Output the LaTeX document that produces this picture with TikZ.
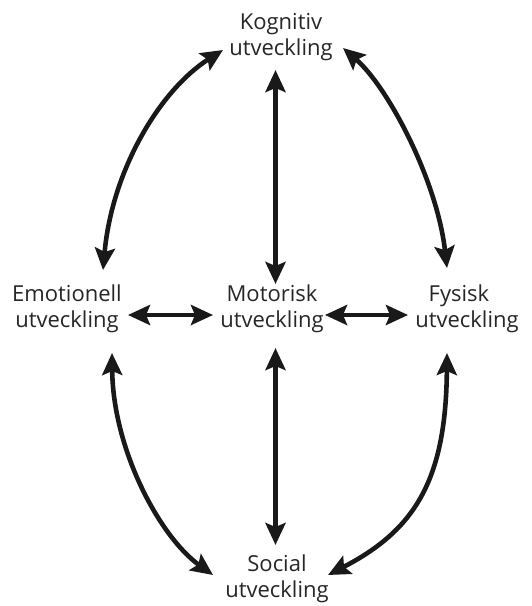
\documentclass[tikz,border=0pt]{standalone}
\usepackage{fontspec}
\setmainfont{Open Sans}
\usetikzlibrary{arrows.meta,calc}
\begin{document}
\begin{tikzpicture}[x=1pt,y=-1pt,
  lbl/.style={align=center,inner sep=0pt,font=\fontsize{22}{26}\selectfont,text=black!85},
  biarrow/.style={line width=4.6pt,color=black!90,
    {Stealth[length=22pt,width=20pt,inset=4pt]}-{Stealth[length=22pt,width=20pt,inset=4pt]}}]
\useasboundingbox (0,0) rectangle (531,606);
\node[lbl] (kog) at (281,37.5) {Kognitiv\\utveckling};
\node[lbl] (emo) at (67,308.5) {Emotionell\\utveckling};
\node[lbl] (mot) at (272,308.5) {Motorisk\\utveckling};
\node[lbl] (fys) at (467,308.5) {Fysisk\hspace*{16pt}\\utveckling};
\node[lbl] (soc) at (277,579) {Social\\utveckling};
% vertical
\draw[biarrow] ($(kog.center)+(-5.5,32.5)$) -- ($(mot.center)+(3.5,-24.5)$);
\draw[biarrow] ($(mot.center)+(3.5,39.5)$) -- ($(soc.center)+(-1.5,-34)$);
% horizontal
\draw[biarrow] ($(emo.center)+(61,6.5)$) -- ($(mot.center)+(-59,6.5)$);
\draw[biarrow] ($(mot.center)+(53,6.5)$) -- ($(fys.center)+(-59,6.5)$);
% curves
\draw[biarrow] ($(emo.center)+(36,-38.5)$) .. controls +(9,-100) and +(-63,40) .. ($(kog.center)+(-58,12.5)$);
\draw[biarrow] ($(fys.center)+(-20,-40.5)$) .. controls +(-10,-88) and +(45,39) .. ($(kog.center)+(62,10.5)$);
\draw[biarrow] ($(emo.center)+(45,44.5)$) .. controls +(1,97) and +(-53,-38) .. ($(soc.center)+(-64,-4)$);
\draw[biarrow] ($(fys.center)+(-20,44.5)$) .. controls +(-1,127) and +(87,-45) .. ($(soc.center)+(51,-4)$);
\end{tikzpicture}
\end{document}
